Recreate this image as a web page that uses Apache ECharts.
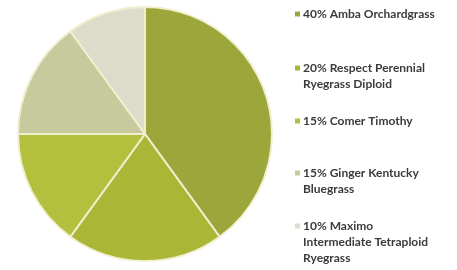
<!DOCTYPE html>
<html lang="en" style="height: 100%">

<head>
  <meta charset="utf-8">
</head>

<body style="height: 100%; margin: 0; background: #fff">
  <div id="container" style="height: 100%"></div>
  <script type="text/javascript" src="https://fastly.jsdelivr.net/npm/echarts@6.0.0/dist/echarts.min.js"></script>

  <script type="text/javascript">
    // seed mix, percent by weight
    var names = [
      'Amba Orchardgrass',
      'Respect Perennial Ryegrass Diploid',
      'Comer Timothy',
      'Ginger Kentucky Bluegrass',
      'Maximo Intermediate Tetraploid Ryegrass'
    ];
    var values = [40, 20, 15, 15, 10];
    // how the legend text wraps
    var legendLines = [
      ['40% Amba Orchardgrass'],
      ['20% Respect Perennial', 'Ryegrass Diploid'],
      ['15% Comer Timothy'],
      ['15% Ginger Kentucky', 'Bluegrass'],
      ['10% Maximo', 'Intermediate Tetraploid', 'Ryegrass']
    ];
    var colors = ['#9ba63b', '#aab736', '#b3c03e', '#c6ca9c', '#dddccb'];

    var dom = document.getElementById('container');
    var myChart = echarts.init(dom, null, {
      renderer: 'canvas',
      useDirtyRect: false
    });

    var lineH = 16;
    var firstLineY = [14, 68, 121, 173, 226];

    var legends = names.map(function (name, i) {
      var n = legendLines[i].length;
      // blank lines on top so the first line sits level with the marker
      var pad = new Array(n).join('\n');
      return {
        orient: 'vertical',
        left: 295,
        top: firstLineY[i] - (2 * n - 1) * lineH / 2,
        padding: 0,
        icon: 'rect',
        itemWidth: 5,
        itemHeight: 5,
        itemGap: 0,
        itemStyle: { borderWidth: 0 },
        selectedMode: false,
        data: [name],
        formatter: function () {
          return pad + legendLines[i].join('\n');
        },
        textStyle: {
          fontFamily: 'Lato',
          fontWeight: 'bold',
          fontSize: 12,
          color: '#3b3b3b',
          lineHeight: lineH,
          padding: [0, 0, 0, -2]
        }
      };
    });

    var option = {
      color: colors,
      animation: false,
      legend: legends,
      series: [
        {
          type: 'pie',
          center: [145, 134],
          radius: 127,
          startAngle: 90,
          clockwise: true,
          label: { show: false },
          labelLine: { show: false },
          itemStyle: {
            borderColor: '#f2efd0',
            borderWidth: 2
          },
          emphasis: { scale: false },
          data: names.map(function (name, i) {
            return { name: name, value: values[i] };
          })
        }
      ]
    };

    myChart.setOption(option);

    window.addEventListener('resize', myChart.resize);
  </script>
</body>

</html>
